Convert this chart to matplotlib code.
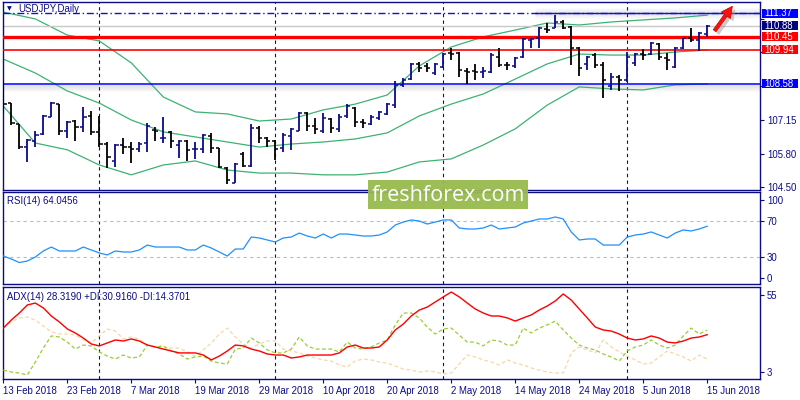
import matplotlib
matplotlib.use('Agg')
import matplotlib.pyplot as plt
import matplotlib.transforms as mtrans
from matplotlib.patches import Rectangle, FancyArrowPatch
import numpy as np

plt.rcParams['font.family'] = ['Liberation Sans', 'DejaVu Sans']

# ---------------- data ----------------
date_labels = ['13 Feb 2018', '23 Feb 2018', '7 Mar 2018', '19 Mar 2018', '29 Mar 2018',
               '10 Apr 2018', '20 Apr 2018', '2 May 2018', '14 May 2018', '24 May 2018',
               '5 Jun 2018', '15 Jun 2018']
date_label_idx = [0, 8, 16, 24, 32, 40, 48, 56, 64, 72, 80, 88]
month_sep_idx = [12, 34, 55, 78]

opens = [108.54, 107.82, 106.99, 106.08, 106.32, 106.60, 107.27, 107.78, 106.72, 107.11,
         106.87, 107.30, 106.68, 106.20, 105.53, 106.16, 106.08, 106.01, 106.24, 106.76,
         106.44, 106.68, 106.16, 106.32, 106.01, 106.01, 106.52, 106.05, 105.25, 104.66,
         105.80, 105.33, 106.83, 106.44, 106.32, 106.05, 106.50, 106.72, 107.43, 106.91,
         106.72, 107.19, 106.79, 107.31, 107.62, 107.07, 106.99, 107.23, 107.39, 107.74,
         108.54, 108.77, 109.37, 109.29, 109.01, 109.25, 109.80, 109.80, 109.09, 109.09,
         109.05, 109.05, 109.64, 109.33, 109.29, 109.64, 110.32, 110.40, 110.75, 110.79,
         111.03, 110.83, 110.00, 109.37, 109.72, 109.33, 108.50, 108.85, 108.73, 109.41,
         109.76, 109.76, 110.16, 109.60, 109.25, 110.00, 110.40, 110.32, 110.55]
highs = [108.73, 107.84, 107.00, 106.40, 106.72, 107.35, 107.86, 107.80, 107.11, 107.15,
         107.67, 107.51, 107.31, 106.28, 106.20, 106.44, 106.28, 106.28, 107.03, 106.87,
         107.27, 106.72, 106.36, 106.36, 106.28, 106.60, 106.64, 106.05, 105.29, 105.45,
         105.88, 106.99, 106.91, 106.48, 106.36, 106.64, 106.83, 107.47, 107.45, 107.23,
         107.43, 107.23, 107.39, 107.78, 107.66, 107.19, 107.35, 107.51, 107.82, 108.69,
         108.81, 109.41, 109.45, 109.41, 109.41, 109.80, 110.00, 109.84, 109.21, 109.37,
         109.25, 109.80, 110.00, 109.45, 109.64, 110.40, 110.40, 110.83, 110.99, 111.30,
         111.11, 110.87, 110.04, 109.68, 109.80, 109.45, 109.01, 108.93, 109.84, 109.80,
         109.96, 110.24, 110.20, 109.80, 110.04, 110.40, 110.79, 110.63, 110.90]
lows = [107.43, 106.95, 106.01, 105.49, 106.08, 106.56, 107.27, 106.56, 106.44, 106.32,
        106.68, 106.56, 106.08, 105.25, 105.29, 105.81, 105.45, 105.88, 105.88, 106.32,
        106.24, 106.05, 105.65, 105.53, 105.61, 105.85, 105.85, 105.25, 104.62, 104.66,
        105.29, 105.29, 106.24, 106.08, 105.57, 105.88, 105.97, 106.72, 106.72, 106.60,
        106.64, 106.64, 106.68, 107.23, 106.87, 106.83, 106.95, 107.15, 107.35, 107.62,
        108.46, 108.73, 109.05, 109.05, 108.93, 109.21, 109.52, 108.85, 108.58, 108.73,
        108.81, 109.01, 109.25, 109.13, 109.21, 109.60, 110.00, 110.00, 110.59, 110.79,
        110.75, 109.33, 108.89, 109.13, 109.21, 108.02, 108.34, 108.30, 108.65, 109.29,
        109.52, 109.72, 109.52, 109.13, 109.21, 109.96, 110.24, 109.88, 110.435]
closes = [107.78, 107.03, 106.08, 106.36, 106.56, 107.31, 107.82, 106.72, 107.07, 106.87,
          107.27, 106.68, 106.20, 105.69, 106.16, 106.08, 106.01, 106.20, 106.91, 106.72,
          106.45, 106.32, 106.32, 105.97, 106.02, 106.56, 106.05, 105.29, 104.78, 105.41,
          105.33, 106.83, 106.44, 106.32, 106.01, 106.56, 106.79, 107.43, 106.91, 106.79,
          107.23, 106.83, 107.27, 107.70, 107.07, 107.03, 107.27, 107.47, 107.78, 108.54,
          108.73, 109.37, 109.21, 109.21, 109.37, 109.76, 109.76, 109.13, 109.05, 109.05,
          109.09, 109.72, 109.33, 109.32, 109.60, 110.35, 110.35, 110.79, 110.71, 111.03,
          110.79, 110.00, 109.21, 109.64, 109.33, 108.73, 108.85, 108.73, 109.64, 109.76,
          109.74, 110.20, 109.64, 109.52, 110.00, 110.40, 110.32, 110.59, 110.88]

band_idx = list(range(0, 89, 4))
bb_upper = [111.42, 111.15, 110.51, 110.28, 109.41, 108.06, 107.47, 107.39, 107.11, 107.19,
            107.55, 107.78, 108.14, 109.29, 110.04, 110.44, 110.71, 110.99, 110.91, 111.03,
            111.11, 111.19, 111.30]
bb_middle = [109.56, 109.01, 108.30, 107.82, 107.15, 106.68, 106.48, 106.28, 106.08, 106.20,
             106.28, 106.40, 106.64, 107.31, 107.78, 108.18, 108.77, 109.37, 109.76, 109.72,
             109.72, 109.84, 109.92]
bb_lower = [107.70, 106.24, 105.97, 105.37, 104.98, 105.37, 105.53, 105.17, 105.05, 105.05,
            104.98, 104.98, 105.09, 105.49, 105.61, 106.16, 106.80, 107.74, 108.46, 108.38,
            108.34, 108.54, 108.58]

rsi = [31.0, 27.7, 23.8, 25.5, 29.9, 36.6, 41.0, 36.6, 36.6, 36.6,
       41.0, 37.7, 34.4, 32.2, 36.6, 35.5, 35.5, 37.7, 43.2, 41.0,
       41.0, 41.0, 41.0, 37.7, 37.7, 43.2, 39.9, 35.5, 31.0, 38.8,
       38.8, 52.1, 51.0, 48.8, 46.6, 51.0, 52.1, 56.5, 53.2, 51.0,
       55.4, 51.0, 55.4, 55.4, 54.3, 53.2, 53.2, 54.3, 57.7, 65.4,
       68.7, 71.0, 69.8, 66.5, 68.7, 71.0, 71.0, 62.1, 61.0, 61.0,
       62.1, 65.4, 61.0, 62.1, 63.2, 67.6, 69.8, 72.1, 72.1, 74.3,
       72.1, 57.7, 48.8, 49.9, 49.9, 43.2, 43.2, 43.2, 52.1, 54.3,
       55.4, 57.7, 54.3, 51.0, 56.5, 59.9, 58.8, 61.0, 64.05]

adx = [32.1, 36.7, 40.7, 45.3, 46.4, 43.6, 39.0, 35.6, 31.6, 29.3,
       26.4, 23.0, 21.9, 23.6, 25.3, 24.7, 25.9, 24.7, 22.4, 21.3,
       20.1, 19.0, 17.9, 17.9, 17.9, 16.7, 13.9, 16.1, 19.0, 22.4,
       21.9, 20.1, 19.0, 17.3, 16.7, 16.7, 15.0, 15.6, 16.7, 16.7,
       16.7, 16.7, 17.9, 21.3, 22.4, 20.7, 20.7, 21.3, 25.3, 31.0,
       34.4, 39.0, 42.4, 44.1, 47.0, 49.9, 52.7, 49.9, 46.4, 43.0,
       40.7, 39.0, 39.0, 37.9, 36.1, 37.9, 39.6, 42.4, 44.7, 47.6,
       51.6, 48.1, 43.0, 37.9, 32.7, 31.0, 30.4, 28.7, 26.4, 25.3,
       25.9, 27.6, 26.4, 24.1, 23.6, 24.7, 26.4, 27.0, 28.32]
plus_di = [8.1, 7.0, 6.4, 5.3, 12.7, 20.7, 27.6, 27.0, 24.1, 20.1,
           22.4, 21.9, 18.4, 16.1, 14.4, 16.7, 15.0, 15.6, 22.4, 21.3,
           21.9, 19.0, 17.3, 14.4, 15.6, 16.1, 13.3, 12.1, 11.6, 20.1,
           20.7, 26.4, 23.6, 19.6, 17.9, 17.9, 20.1, 27.0, 21.9, 20.1,
           20.1, 20.1, 18.4, 24.1, 20.7, 20.1, 21.3, 23.6, 25.3, 33.9,
           40.7, 40.7, 37.9, 32.7, 28.7, 31.6, 32.1, 28.1, 24.1, 24.1,
           21.9, 25.3, 24.7, 22.4, 22.4, 32.1, 29.3, 32.1, 33.9, 36.1,
           31.0, 26.4, 22.4, 20.7, 19.6, 17.3, 15.6, 13.3, 19.0, 21.3,
           22.4, 25.3, 22.4, 20.7, 22.4, 27.6, 32.1, 28.7, 30.92]
minus_di = [32.1, 35.6, 37.9, 38.4, 36.7, 33.3, 29.9, 28.7, 28.7, 28.1,
            25.3, 23.6, 27.6, 31.6, 30.4, 25.9, 27.0, 25.9, 22.4, 21.3,
            20.1, 20.7, 20.7, 18.4, 16.1, 19.6, 23.6, 28.7, 32.1, 27.0,
            23.0, 20.7, 23.0, 24.7, 24.7, 20.1, 19.0, 17.9, 16.1, 15.0,
            13.9, 13.3, 11.0, 9.9, 13.3, 14.4, 13.9, 12.7, 12.1, 10.4,
            8.7, 8.1, 7.0, 7.6, 7.0, 5.9, 6.4, 11.6, 16.7, 15.6,
            13.9, 12.7, 11.0, 13.9, 12.1, 11.0, 9.3, 8.1, 7.0, 6.4,
            6.4, 17.9, 21.3, 19.6, 17.9, 25.3, 21.3, 18.4, 16.1, 13.9,
            11.6, 12.1, 15.6, 19.0, 17.3, 15.6, 13.3, 16.7, 14.37]

level_resist_hi = 111.37
level_price = 110.88
level_red_thick = 110.45
level_red_thin = 109.94
level_support = 108.58
price_ticks = [104.50, 105.80, 107.15, 108.50, 109.85, 111.15]
price_tick_labels = ['104.50', '105.80', '107.15', '', '', '']  # the others sit under the boxes
rsi_levels = [30, 70]

title = 'USDJPY,Daily'
rsi_title = 'RSI(14) 64.0456'
adx_title = 'ADX(14) 28.3190 +DI:30.9160 -DI:14.3701'
watermark = 'freshforex.com'

# ---------------- style ----------------
NAVY = '#0b0b86'
BULL = '#0a0a8c'
BEAR = '#000000'
GREEN = '#3cb371'
FS = 6.9

W, H = 800, 400
fig = plt.figure(figsize=(8, 4), dpi=100)
fig.patch.set_facecolor('white')


def rect(top, bottom, left=3, right=760):
    return [left / W, 1 - bottom / H, (right - left) / W, (bottom - top) / H]


ax = fig.add_axes(rect(2, 190))
ax_rsi = fig.add_axes(rect(192, 284))
ax_adx = fig.add_axes(rect(287, 379))

n = len(closes)
x = np.arange(n)
XLIM = (-0.04, 94.6)

for a in (ax, ax_rsi, ax_adx):
    a.set_xlim(*XLIM)
    for s in a.spines.values():
        s.set_color(NAVY)
        s.set_linewidth(1.0)
    a.set_facecolor('white')
    a.tick_params(axis='y', which='both', left=False, right=True, labelleft=False,
                  labelright=True, direction='out', length=3, width=0.8,
                  color=NAVY, labelcolor=NAVY, labelsize=FS, pad=2)
    for i in month_sep_idx:
        a.axvline(i, color=NAVY, lw=0.8, ls=(0, (3, 3)), zorder=1)

# ---------------- main price panel ----------------
ax.set_ylim(104.38, 111.82)
ax.set_xticks([])
ax.set_yticks(price_ticks)
ax.set_yticklabels(price_tick_labels)

px = (111.82 - 104.38) / 188.0  # price per pixel

# shadows
for k in range(1, 8):
    ax.axhline(level_support - k * px, color='0.45', alpha=0.22 * (1 - k / 8), lw=0.8, zorder=1)
for k in range(1, 6):
    a_ = 0.15 * (1 - k / 6)
    ax.hlines([level_resist_hi - k * px, level_resist_hi + k * px], 66.5, XLIM[1],
              color='0.45', alpha=a_, lw=0.8, zorder=1)

ax.plot(band_idx, bb_upper, color=GREEN, lw=0.9, zorder=2)
ax.plot(band_idx, bb_middle, color=GREEN, lw=0.9, zorder=2)
ax.plot(band_idx, bb_lower, color=GREEN, lw=0.9, zorder=2)

ax.axhline(level_resist_hi, color='#1010d0', lw=1.0, ls=(0, (5, 2, 1, 2)), zorder=3)
ax.hlines(level_resist_hi, 66.5, XLIM[1], color='#1010d0', lw=1.0, zorder=3)
ax.axhline(level_price, color='#c8c8c8', lw=1.0, zorder=2)
ax.axhline(level_red_thick, color='#ff0000', lw=2.4, zorder=3)
ax.axhline(level_red_thin, color='#ff0000', lw=1.2, zorder=3)
ax.axhline(level_support, color='#0000ff', lw=1.1, zorder=3)

o = np.array(opens); h = np.array(highs); l = np.array(lows); c = np.array(closes)
cols = [BULL if cc >= oo else BEAR for oo, cc in zip(o, c)]
tk = 0.4
ax.vlines(x, l, h, colors=cols, lw=1.3, zorder=4)
ax.hlines(o, x - tk, x, colors=cols, lw=1.1, zorder=4)
ax.hlines(c, x, x + tk, colors=cols, lw=1.1, zorder=4)

ax.text(4 / 757, 1 - 7 / 188, '\u25bc', transform=ax.transAxes, fontsize=4.5,
        color=NAVY, va='center', ha='left', family=['DejaVu Sans'])
ax.text(15 / 757, 1 - 7 / 188, title, transform=ax.transAxes, fontsize=FS,
        color=NAVY, va='center', ha='left')

# price label boxes
blend = mtrans.blended_transform_factory(ax.transAxes, ax.transData)
for val, bg in [(level_resist_hi, '#0000ff'), (level_price, '#000080'),
                (level_red_thick, '#ff0000'), (level_red_thin, '#ff0000'),
                (level_support, '#0000ff')]:
    ax.add_patch(Rectangle((1.002, val - 4.6 * px), 36 / 757, 9.4 * px, transform=blend,
                           facecolor=bg, edgecolor='none', clip_on=False, zorder=20))
    ax.text(1.006, val, '%.2f' % val, transform=blend, color='white', fontsize=FS,
            va='center', ha='left', clip_on=False, zorder=21)

# ---------------- RSI panel ----------------
ax_rsi.set_ylim(0, 102)
ax_rsi.set_xticks([])
ax_rsi.set_yticks([6.6, 30, 70, 93.3])
ax_rsi.set_yticklabels(['0', '30', '70', '100'])
for lv in rsi_levels:
    ax_rsi.axhline(lv, color='#bdbdbd', lw=0.8, ls=(0, (3, 3)), zorder=1)
ax_rsi.plot(x, rsi, color='#1e90ff', lw=0.9, zorder=3)
ax_rsi.text(4 / 757, 1 - 9 / 92, rsi_title, transform=ax_rsi.transAxes, fontsize=FS,
            color=NAVY, va='center', ha='left')

# ---------------- ADX panel ----------------
ax_adx.set_ylim(3, 55.57)
ax_adx.set_yticks([7.0, 51.0])
ax_adx.set_yticklabels(['3', '55'])
ax_adx.plot(x, minus_di, color='#f7d7a6', lw=0.9, ls=(0, (3, 2)), zorder=2)
ax_adx.plot(x, plus_di, color='#9acd32', lw=0.9, ls=(0, (3, 2)), zorder=3)
ax_adx.plot(x, adx, color='#ff0000', lw=1.0, zorder=4)
ax_adx.text(4 / 757, 1 - 10 / 92, adx_title, transform=ax_adx.transAxes, fontsize=FS,
            color=NAVY, va='center', ha='left')
ax_adx.set_xticks(date_label_idx)
ax_adx.set_xticklabels(date_labels, ha='left')
ax_adx.tick_params(axis='x', direction='out', length=3, width=0.8, color=NAVY,
                   labelcolor=NAVY, labelsize=FS, pad=2)

# ---------------- arrow ----------------
ident = mtrans.IdentityTransform()
shadow = FancyArrowPatch((716, 364), (737, 393), transform=ident,
                         arrowstyle='simple,head_length=8,head_width=8,tail_width=2.5',
                         color='0.6', alpha=0.5, lw=0, zorder=30)
arrow = FancyArrowPatch((713, 367), (734, 396), transform=ident,
                        arrowstyle='simple,head_length=8,head_width=8,tail_width=2.5',
                        facecolor='#ff1010', edgecolor='#c00000', lw=0.5, zorder=31)
fig.add_artist(shadow)
fig.add_artist(arrow)

# ---------------- watermark ----------------
fig.add_artist(Rectangle((368 / W, 1 - 209 / H), 160 / W, 29 / H, transform=fig.transFigure,
                         facecolor='#98bb4e', edgecolor='none', alpha=0.95, zorder=40))
fig.text(448 / W, 1 - 195 / H, watermark, color='white', fontsize=15.5,
         family=['Open Sans', 'DejaVu Sans'], ha='center', va='center', zorder=41)

fig.savefig('out.png', dpi=100, facecolor='white')
